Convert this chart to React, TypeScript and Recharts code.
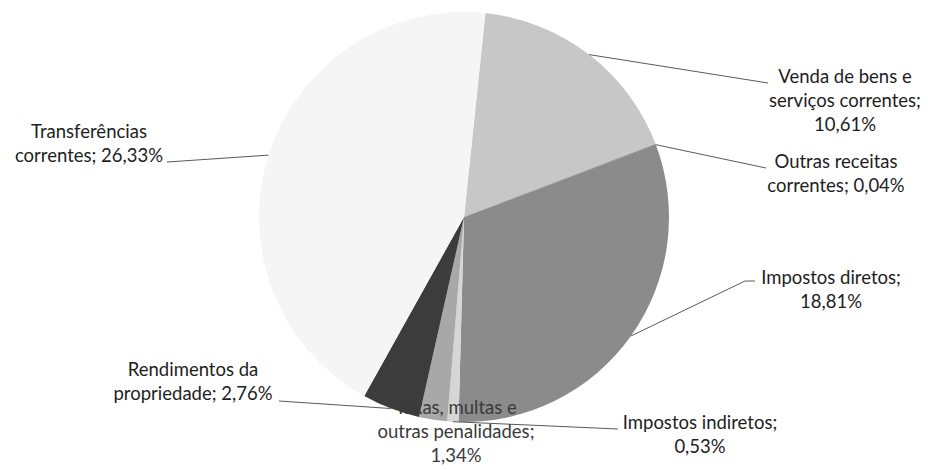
import React from "react";
import { PieChart, Pie, Cell } from "recharts";

const categories = [
  "Venda de bens e serviços correntes",
  "Outras receitas correntes",
  "Impostos diretos",
  "Impostos indiretos",
  "Taxas, multas e outras penalidades",
  "Rendimentos da propriedade",
  "Transferências correntes",
];
const values = [10.61, 0.04, 18.81, 0.53, 1.34, 2.76, 26.33];
const labelText = ["10,61%", "0,04%", "18,81%", "0,53%", "1,34%", "2,76%", "26,33%"];
const labelLines: string[][] = [
  ["Venda de bens e", "serviços correntes;", "10,61%"],
  ["Outras receitas", "correntes; 0,04%"],
  ["Impostos diretos;", "18,81%"],
  ["Impostos indiretos;", "0,53%"],
  ["Taxas, multas e", "outras penalidades;", "1,34%"],
  ["Rendimentos da", "propriedade; 2,76%"],
  ["Transferências", "correntes; 26,33%"],
];
const colors = ["#c7c7c7", "#5a5a5a", "#8b8b8b", "#d6d6d6", "#a8a8a8", "#3c3c3c", "#f5f5f5"];

// label layout: text center x, first baseline y, leader end points (null = no line)
const labelLayout: { x: number; y: number; pts: number[][] | null }[] = [
  { x: 845, y: 83, pts: [[768, 83]] },
  { x: 836, y: 168, pts: [[766, 168]] },
  { x: 831, y: 284, pts: [[745, 281], [755, 281]] },
  { x: 700, y: 429, pts: [[618, 429]] },
  { x: 456, y: 414, pts: null },
  { x: 193, y: 376, pts: [[279, 401]] },
  { x: 89, y: 138, pts: [[167, 162]] },
];

const data = categories.map((name, i) => ({ name, value: values[i], label: labelText[i] }));

const RAD = Math.PI / 180;

const renderLabel = (props: any) => {
  const { cx, cy, midAngle, outerRadius, index } = props;
  const lay = labelLayout[index];
  const sx = cx + outerRadius * Math.cos(-midAngle * RAD);
  const sy = cy + outerRadius * Math.sin(-midAngle * RAD);
  const lines = labelLines[index];
  let path = "";
  if (lay.pts) {
    path = `M${sx},${sy}` + lay.pts.map((p) => ` L${p[0]},${p[1]}`).join("");
  }
  return (
    <g key={`lab-${index}`}>
      {path && <path d={path} stroke="#5a5a5a" strokeWidth={1} fill="none" />}
      <text
        x={lay.x}
        y={lay.y}
        textAnchor="middle"
        fill={index === 4 ? "#3a3a3a" : "#1e1e1e"}
        style={{ fontFamily: "Lato, 'Open Sans', sans-serif", fontSize: 18.5 }}
      >
        {lines.map((l, j) => (
          <tspan key={j} x={lay.x} y={lay.y + j * 24}>
            {l}
          </tspan>
        ))}
      </text>
    </g>
  );
};

export default function App() {
  return (
    <div style={{ position: "absolute", left: 0, top: 0, background: "#fff" }}>
      <PieChart width={928} height={470}>
        <Pie
          data={data}
          dataKey="value"
          nameKey="name"
          cx={459}
          cy={212}
          outerRadius={205}
          startAngle={84}
          endAngle={-276}
          stroke="none"
          label={renderLabel}
          labelLine={false}
          isAnimationActive={false}
        >
          {data.map((d, i) => (
            <Cell key={d.name} fill={colors[i]} />
          ))}
        </Pie>
      </PieChart>
    </div>
  );
}
